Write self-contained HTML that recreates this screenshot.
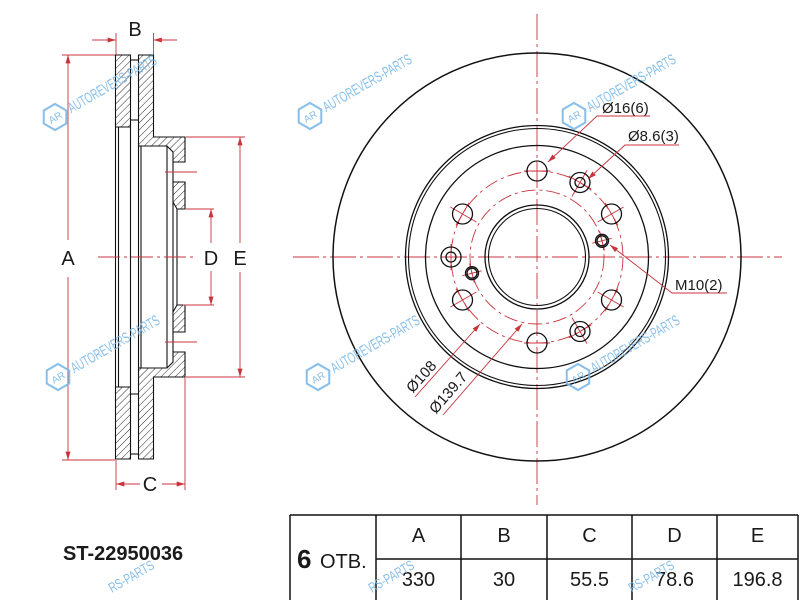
<!DOCTYPE html>
<html>
<head>
<meta charset="utf-8">
<style>
html,body{margin:0;padding:0;background:#fff;width:800px;height:600px;overflow:hidden;}
svg{display:block;overflow:hidden;}
</style>
</head>
<body>
<svg width="800" height="600" viewBox="0 0 800 600" xmlns="http://www.w3.org/2000/svg" font-family="'Liberation Sans', Arial, sans-serif">
<defs>
<pattern id="h" width="5" height="5" patternUnits="userSpaceOnUse" patternTransform="rotate(45)">
<line x1="0" y1="0" x2="0" y2="5" stroke="#111" stroke-width="0.9"/>
</pattern>
<marker id="a" viewBox="0 0 10 6" refX="10" refY="3" markerWidth="9" markerHeight="5" orient="auto" markerUnits="userSpaceOnUse">
<path d="M0,0 L10,3 L0,6 z" fill="#c8343c"/>
</marker>
</defs>
<rect width="800" height="600" fill="#fff"/>

<!-- ============ SIDE VIEW ============ -->
<g stroke="#111" stroke-width="1.1" fill="none">
  <polygon points="115.5,55 130.5,55 130.5,127 115.5,127" fill="url(#h)"/>
  <line x1="130.5" y1="60" x2="138.5" y2="60"/>
  <line x1="130.5" y1="120" x2="138.5" y2="120"/>
  <polygon points="138.5,55 153.5,55 153.5,137 185,137 185,162 173,162 173,152 167,146 138.5,146" fill="url(#h)"/>
  <polygon points="173,182 185,182 185,209 177,209 173,202" fill="url(#h)"/>
  <line x1="173" y1="162" x2="173" y2="182"/>
  <polygon points="115.5,459 130.5,459 130.5,387 115.5,387" fill="url(#h)"/>
  <line x1="130.5" y1="454" x2="138.5" y2="454"/>
  <line x1="130.5" y1="394" x2="138.5" y2="394"/>
  <polygon points="138.5,459 153.5,459 153.5,377 185,377 185,352 173,352 173,362 167,368 138.5,368" fill="url(#h)"/>
  <polygon points="173,332 185,332 185,305 177,305 173,312" fill="url(#h)"/>
  <line x1="173" y1="332" x2="173" y2="352"/>
  <line x1="115.5" y1="127" x2="115.5" y2="387"/>
  <line x1="118.5" y1="127" x2="118.5" y2="387"/>
  <line x1="130.5" y1="127" x2="130.5" y2="387"/>
  <line x1="138.5" y1="146" x2="138.5" y2="368"/>
  <line x1="141" y1="146" x2="141" y2="368"/>
  <line x1="167" y1="146" x2="167" y2="368"/>
  <line x1="173" y1="202" x2="173" y2="312"/>
  <line x1="177" y1="209" x2="177" y2="305"/>
</g>

<g stroke="#c8343c" stroke-width="0.9" fill="none">
  <line x1="62" y1="55" x2="115" y2="55"/>
  <line x1="62" y1="460" x2="115" y2="460"/>
  <line x1="116" y1="33" x2="116" y2="55"/>
  <line x1="153.5" y1="33" x2="153.5" y2="55"/>
  <line x1="116" y1="460" x2="116" y2="490"/>
  <line x1="185" y1="377" x2="185" y2="490"/>
  <line x1="186" y1="137" x2="245" y2="137"/>
  <line x1="186" y1="377" x2="245" y2="377"/>
  <line x1="186" y1="209" x2="214" y2="209"/>
  <line x1="183" y1="305" x2="214" y2="305"/>
  <line x1="165" y1="172" x2="197" y2="172"/>
  <line x1="165" y1="342" x2="197" y2="342"/>
  <line x1="98" y1="257" x2="195" y2="257" stroke-dasharray="22 4 3 4"/>
  <line x1="68" y1="240" x2="68" y2="55" marker-end="url(#a)"/>
  <line x1="68" y1="277" x2="68" y2="460" marker-end="url(#a)"/>
  <line x1="92" y1="40" x2="116" y2="40" marker-end="url(#a)"/>
  <line x1="177" y1="40" x2="153.5" y2="40" marker-end="url(#a)"/>
  <line x1="140" y1="484" x2="116" y2="484" marker-end="url(#a)"/>
  <line x1="162" y1="484" x2="185" y2="484" marker-end="url(#a)"/>
  <line x1="211" y1="243" x2="211" y2="209" marker-end="url(#a)"/>
  <line x1="211" y1="271" x2="211" y2="305" marker-end="url(#a)"/>
  <line x1="240" y1="243" x2="240" y2="137" marker-end="url(#a)"/>
  <line x1="240" y1="272" x2="240" y2="377" marker-end="url(#a)"/>
</g>
<g fill="#1a1a1a" font-size="20" text-anchor="middle">
  <text x="68" y="265">A</text>
  <text x="135" y="36">B</text>
  <text x="150" y="491">C</text>
  <text x="211" y="265">D</text>
  <text x="240" y="265">E</text>
</g>

<!-- ============ FRONT VIEW ============ -->
<g stroke="#c8343c" stroke-width="0.9" fill="none">
  <line x1="537" y1="14" x2="537" y2="505" stroke-dasharray="26 4 3 4"/>
  <line x1="293" y1="257" x2="782" y2="257" stroke-dasharray="26 4 3 4"/>
  <circle cx="537" cy="257" r="67" stroke-dasharray="14 4 3 4"/>
  <circle cx="537" cy="257" r="86" stroke-dasharray="14 4 3 4"/>
  <g transform="rotate(-30 537 257)"><line x1="607" y1="257" x2="637" y2="257"/><line x1="623" y1="244" x2="623" y2="270"/></g>
  <g transform="rotate(-90 537 257)"><line x1="623" y1="244" x2="623" y2="270"/></g>
  <g transform="rotate(-150 537 257)"><line x1="607" y1="257" x2="637" y2="257"/><line x1="623" y1="244" x2="623" y2="270"/></g>
  <g transform="rotate(-210 537 257)"><line x1="607" y1="257" x2="637" y2="257"/><line x1="623" y1="244" x2="623" y2="270"/></g>
  <g transform="rotate(-270 537 257)"><line x1="623" y1="244" x2="623" y2="270"/></g>
  <g transform="rotate(-330 537 257)"><line x1="607" y1="257" x2="637" y2="257"/><line x1="623" y1="244" x2="623" y2="270"/></g>
  <g transform="rotate(-60 537 257)"><line x1="607" y1="257" x2="637" y2="257"/><line x1="623" y1="244" x2="623" y2="270"/></g>
  <g transform="rotate(-180 537 257)"><line x1="623" y1="244" x2="623" y2="270"/></g>
  <g transform="rotate(-300 537 257)"><line x1="607" y1="257" x2="637" y2="257"/><line x1="623" y1="244" x2="623" y2="270"/></g>
  <g transform="rotate(-14 537 257)"><line x1="594" y1="257" x2="614" y2="257"/><line x1="604" y1="247" x2="604" y2="267"/></g>
  <g transform="rotate(-194 537 257)"><line x1="594" y1="257" x2="614" y2="257"/><line x1="604" y1="247" x2="604" y2="267"/></g>
</g>

<g stroke="#111" fill="none">
  <circle cx="537" cy="257" r="204" stroke-width="1.5"/>
  <circle cx="537" cy="257" r="131.5" stroke-width="1.3"/>
  <circle cx="537" cy="257" r="128.5" stroke-width="1.1"/>
  <circle cx="537" cy="257" r="111.5" stroke-width="1.3"/>
  <circle cx="537" cy="257" r="52" stroke-width="1.3"/>
  <circle cx="537" cy="257" r="48.5" stroke-width="1.1"/>
  <g stroke-width="1.3">
    <circle cx="537" cy="171" r="10"/>
    <circle cx="611.5" cy="214" r="10"/>
    <circle cx="462.5" cy="214" r="10"/>
    <circle cx="462.5" cy="300" r="10"/>
    <circle cx="537" cy="343" r="10"/>
    <circle cx="611.5" cy="300" r="10"/>
    <circle cx="580" cy="182.5" r="10"/>
    <circle cx="580" cy="182.5" r="5"/>
    <circle cx="451" cy="257" r="10"/>
    <circle cx="451" cy="257" r="5"/>
    <circle cx="580" cy="331.5" r="10"/>
    <circle cx="580" cy="331.5" r="5"/>
    <circle cx="602" cy="240.8" r="6.5"/>
    <circle cx="602" cy="240.8" r="5"/>
    <circle cx="472" cy="273.2" r="6.5"/>
    <circle cx="472" cy="273.2" r="5"/>
  </g>
</g>

<g stroke="#c8343c" stroke-width="0.9" fill="none">
  <polyline points="650,116 597,116 548,162" marker-end="url(#a)"/>
  <polyline points="679,145 625,145 588,179" marker-end="url(#a)"/>
  <polyline points="727,293 672,293 610,245" marker-end="url(#a)"/>
  <line x1="415" y1="397" x2="480" y2="324" marker-end="url(#a)"/>
  <line x1="443" y1="415" x2="522" y2="324" marker-end="url(#a)"/>
</g>
<g fill="#1a1a1a" font-size="15">
  <text x="602" y="113">Ø16(6)</text>
  <text x="628" y="141">Ø8.6(3)</text>
  <text x="675" y="290">M10(2)</text>
  <text transform="translate(425,380) rotate(-48)" text-anchor="middle">Ø108</text>
  <text transform="translate(452,396) rotate(-49)" text-anchor="middle">Ø139.7</text>
</g>

<!-- ============ TABLE ============ -->
<g stroke="#111" stroke-width="1.5" fill="none">
  <line x1="290" y1="515" x2="798" y2="515"/>
  <line x1="376" y1="559" x2="798" y2="559"/>
  <line x1="290" y1="515" x2="290" y2="600"/>
  <line x1="376" y1="515" x2="376" y2="600"/>
  <line x1="461" y1="515" x2="461" y2="600"/>
  <line x1="547" y1="515" x2="547" y2="600"/>
  <line x1="632" y1="515" x2="632" y2="600"/>
  <line x1="717" y1="515" x2="717" y2="600"/>
  <line x1="798" y1="515" x2="798" y2="600"/>
</g>
<g fill="#1a1a1a">
  <text x="297" y="568" font-size="26" font-weight="bold">6</text>
  <text x="320" y="568" font-size="20">ОТВ.</text>
  <g font-size="20" text-anchor="middle">
    <text x="418.5" y="542">A</text>
    <text x="504" y="542">B</text>
    <text x="589.5" y="542">C</text>
    <text x="674.5" y="542">D</text>
    <text x="757.5" y="542">E</text>
    <text x="418.5" y="586">330</text>
    <text x="504" y="586">30</text>
    <text x="589.5" y="586">55.5</text>
    <text x="674.5" y="586">78.6</text>
    <text x="757.5" y="586">196.8</text>
  </g>
  <text x="63" y="560" font-size="20" font-weight="bold">ST-22950036</text>
</g>

<!-- ============ WATERMARKS ============ -->
<g fill="#7ab8e8" stroke="none" opacity="0.9">
  <g transform="translate(55,117) rotate(-30)">
    <polygon points="13,0 6.5,11.3 -6.5,11.3 -13,0 -6.5,-11.3 6.5,-11.3" fill="none" stroke="#7ab8e8" stroke-width="2"/>
    <text x="0" y="4" font-size="10" text-anchor="middle">AR</text>
    <text x="16" y="5" font-size="15" textLength="100" lengthAdjust="spacingAndGlyphs">AUTOREVERS-PARTS</text>
  </g>
  <g transform="translate(310,116) rotate(-30)">
    <polygon points="13,0 6.5,11.3 -6.5,11.3 -13,0 -6.5,-11.3 6.5,-11.3" fill="none" stroke="#7ab8e8" stroke-width="2"/>
    <text x="0" y="4" font-size="10" text-anchor="middle">AR</text>
    <text x="16" y="5" font-size="15" textLength="100" lengthAdjust="spacingAndGlyphs">AUTOREVERS-PARTS</text>
  </g>
  <g transform="translate(574,116) rotate(-30)">
    <polygon points="13,0 6.5,11.3 -6.5,11.3 -13,0 -6.5,-11.3 6.5,-11.3" fill="none" stroke="#7ab8e8" stroke-width="2"/>
    <text x="0" y="4" font-size="10" text-anchor="middle">AR</text>
    <text x="16" y="5" font-size="15" textLength="100" lengthAdjust="spacingAndGlyphs">AUTOREVERS-PARTS</text>
  </g>
  <g transform="translate(58,377) rotate(-30)">
    <polygon points="13,0 6.5,11.3 -6.5,11.3 -13,0 -6.5,-11.3 6.5,-11.3" fill="none" stroke="#7ab8e8" stroke-width="2"/>
    <text x="0" y="4" font-size="10" text-anchor="middle">AR</text>
    <text x="16" y="5" font-size="15" textLength="100" lengthAdjust="spacingAndGlyphs">AUTOREVERS-PARTS</text>
  </g>
  <g transform="translate(318,377) rotate(-30)">
    <polygon points="13,0 6.5,11.3 -6.5,11.3 -13,0 -6.5,-11.3 6.5,-11.3" fill="none" stroke="#7ab8e8" stroke-width="2"/>
    <text x="0" y="4" font-size="10" text-anchor="middle">AR</text>
    <text x="16" y="5" font-size="15" textLength="100" lengthAdjust="spacingAndGlyphs">AUTOREVERS-PARTS</text>
  </g>
  <g transform="translate(578,377) rotate(-30)">
    <polygon points="13,0 6.5,11.3 -6.5,11.3 -13,0 -6.5,-11.3 6.5,-11.3" fill="none" stroke="#7ab8e8" stroke-width="2"/>
    <text x="0" y="4" font-size="10" text-anchor="middle">AR</text>
    <text x="16" y="5" font-size="15" textLength="100" lengthAdjust="spacingAndGlyphs">AUTOREVERS-PARTS</text>
  </g>
  <text transform="translate(112,593) rotate(-30)" font-size="14" textLength="50" lengthAdjust="spacingAndGlyphs">RS-PARTS</text>
  <text transform="translate(372,593) rotate(-30)" font-size="14" textLength="50" lengthAdjust="spacingAndGlyphs">RS-PARTS</text>
  <text transform="translate(632,593) rotate(-30)" font-size="14" textLength="50" lengthAdjust="spacingAndGlyphs">RS-PARTS</text>
</g>
</svg>
</body>
</html>
